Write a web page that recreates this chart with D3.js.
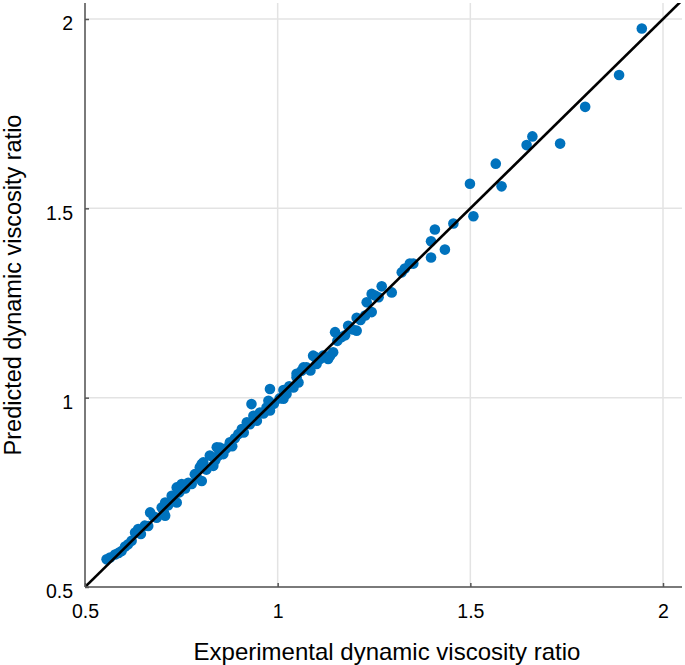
<!DOCTYPE html>
<html>
<head>
<meta charset="utf-8">
<script src="https://cdn.jsdelivr.net/npm/d3@7"></script>
<style>
  html, body { margin: 0; padding: 0; background: #fff; }
  svg { display: block; }
  text { font-family: "Liberation Sans", Arial, Helvetica, sans-serif; fill: #000; }
</style>
</head>
<body>
<svg id="chart" width="685" height="665"></svg>
<script>
// ---- data ----
const xTicks = [0.5, 1, 1.5, 2];
const yTicks = [0.5, 1, 1.5, 2];
const xTickLabels = ["0.5", "1", "1.5", "2"];
const yTickLabels = ["0.5", "1", "1.5", "2"];
const xTitle = "Experimental dynamic viscosity ratio";
const yTitle = "Predicted dynamic viscosity ratio";
const experimental = [
  0.556,0.565,0.578,0.587,0.595,0.604,0.612,0.621,0.630,0.638,
  0.645,0.655,0.664,0.669,0.678,0.686,0.699,0.705,0.708,0.708,
  0.716,0.725,0.730,0.738,0.738,0.745,0.751,0.760,0.768,0.777,
  0.785,0.790,0.798,0.803,0.803,0.807,0.815,0.824,0.833,0.838,
  0.842,0.846,0.850,0.859,0.866,0.876,0.882,0.889,0.898,0.907,
  0.912,0.920,0.928,0.932,0.937,0.946,0.954,0.963,0.971,0.976,
  0.980,0.980,0.990,1.005,1.015,1.015,1.023,1.030,1.041,1.049,
  1.049,1.054,1.062,1.067,1.075,1.085,1.092,1.097,1.101,1.110,
  1.118,1.131,1.136,1.144,1.149,1.155,1.166,1.175,1.183,1.195,
  1.205,1.205,1.215,1.227,1.231,1.244,1.244,1.253,1.262,1.270,
  1.296,1.322,1.330,1.343,1.352,1.398,1.398,1.408,1.434,1.456,
  1.499,1.508,1.566,1.581,1.646,1.661,1.733,1.798,1.886,1.945
];
const predicted = [
  0.573,0.578,0.586,0.590,0.595,0.607,0.613,0.622,0.644,0.653,
  0.640,0.662,0.661,0.697,0.686,0.683,0.710,0.696,0.688,0.723,
  0.716,0.741,0.732,0.723,0.763,0.750,0.772,0.760,0.775,0.772,
  0.798,0.790,0.816,0.780,0.825,0.829,0.810,0.847,0.820,0.835,
  0.869,0.847,0.868,0.851,0.866,0.882,0.872,0.893,0.904,0.917,
  0.908,0.935,0.930,0.983,0.952,0.939,0.961,0.958,0.974,0.992,
  1.023,0.966,0.984,0.998,1.020,0.997,1.010,1.030,1.027,1.054,
  1.063,1.040,1.071,1.080,1.080,1.072,1.111,1.108,1.089,1.102,
  1.111,1.102,1.111,1.120,1.173,1.150,1.160,1.165,1.190,1.180,
  1.177,1.211,1.205,1.217,1.252,1.226,1.274,1.270,1.265,1.294,
  1.278,1.331,1.341,1.354,1.354,1.370,1.413,1.444,1.391,1.460,
  1.565,1.479,1.618,1.558,1.667,1.690,1.671,1.768,1.852,1.975
];
const fitLine = [0.5, 2.06];

// ---- layout ----
const svg = d3.select("#chart");
const pLeft = 85, pRight = 682, pTop = 3, pBottom = 587;
const x = d3.scaleLinear().domain([0.5, 2]).range([pLeft, 663]);
const y = d3.scaleLinear().domain([0.5, 2]).range([pBottom, 19]);

svg.append("defs").append("clipPath").attr("id", "plotclip")
  .append("rect").attr("x", pLeft).attr("y", pTop)
  .attr("width", pRight - pLeft).attr("height", pBottom - pTop);

// grid
const grid = svg.append("g");
grid.selectAll("line.vx").data(xTicks).enter().append("line")
  .attr("x1", d => x(d)).attr("x2", d => x(d))
  .attr("y1", pTop).attr("y2", pBottom)
  .attr("stroke", "#e3e3e3").attr("stroke-width", 1.5);
grid.selectAll("line.hy").data(yTicks).enter().append("line")
  .attr("x1", pLeft).attr("x2", pRight)
  .attr("y1", d => y(d)).attr("y2", d => y(d))
  .attr("stroke", "#e3e3e3").attr("stroke-width", 1.5);

// points
const pts = experimental.map((v, i) => [v, predicted[i]]);
svg.append("g").attr("clip-path", "url(#plotclip)")
  .selectAll("circle").data(pts).enter().append("circle")
  .attr("cx", d => x(d[0])).attr("cy", d => y(d[1]))
  .attr("r", 5.3).attr("fill", "#0072BD");

// y = x line
const line = d3.line().x(d => x(d)).y(d => y(d));
svg.append("path").attr("clip-path", "url(#plotclip)")
  .datum(fitLine).attr("d", line)
  .attr("fill", "none").attr("stroke", "#000").attr("stroke-width", 2.6);

// axes
const xAxis = d3.axisBottom(x).tickValues(xTicks)
  .tickFormat((d, i) => xTickLabels[i]).tickSize(-4).tickPadding(17);
const gx = svg.append("g").attr("transform", `translate(0,${pBottom})`).call(xAxis);
gx.select(".domain").attr("d", `M${pLeft},0H${pRight}`);
const yAxis = d3.axisLeft(y).tickValues(yTicks)
  .tickFormat((d, i) => yTickLabels[i]).tickSize(-4).tickPadding(12);
const gy = svg.append("g").attr("transform", `translate(${pLeft},0)`).call(yAxis);
gy.select(".domain").attr("d", `M0,${pTop}V${pBottom}`);
[gx, gy].forEach(g => {
  g.select(".domain").attr("stroke", "#555").attr("stroke-width", 1.5);
  g.selectAll(".tick line").attr("stroke", "#555").attr("stroke-width", 1.5);
  g.selectAll(".tick text").attr("font-size", 19.5)
    .attr("font-family", "'Liberation Sans', Arial, Helvetica, sans-serif").attr("fill", "#000");
});
gy.selectAll(".tick text").attr("dy", "0.55em");

// titles
svg.append("text").attr("x", 387).attr("y", 660)
  .attr("text-anchor", "middle").attr("font-size", 24).text(xTitle);
svg.append("text").attr("transform", "translate(21,285) rotate(-90)")
  .attr("text-anchor", "middle").attr("font-size", 23.5).text(yTitle);
</script>
</body>
</html>
